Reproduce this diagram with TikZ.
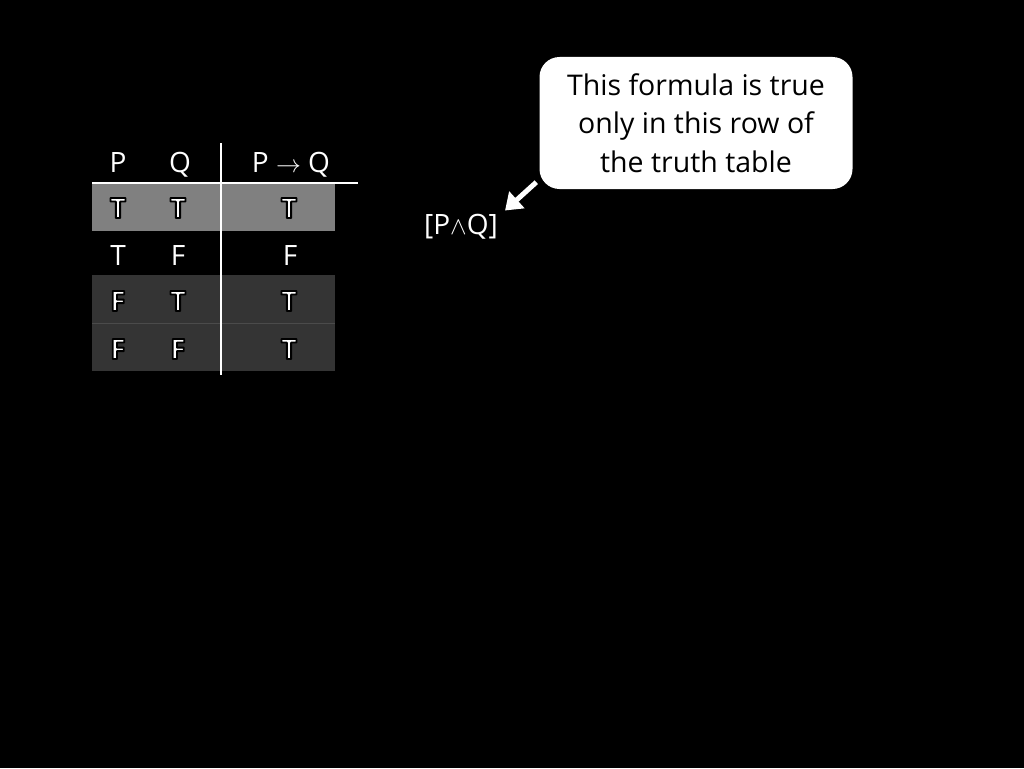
\documentclass[tikz,border=0pt]{standalone}
\usepackage{fontspec}
\setmainfont{Open Sans}
\usetikzlibrary{arrows.meta}

\definecolor{lightrow}{RGB}{128,128,128}
\definecolor{darkrow}{RGB}{52,52,52}
\definecolor{rowline}{RGB}{75,75,75}

% white letter with a dark rim
\newcommand{\glow}[1]{\special{pdf:literal direct 2 Tr 1.8 w 1 j 0 0 0 RG}\textbf{#1}\special{pdf:literal direct 0 Tr}}

\begin{document}
\begin{tikzpicture}[x=1pt,y=-1pt,
  cell/.style={text=white,inner sep=0pt,anchor=base,font=\fontsize{28}{30}\selectfont},
  rule/.style={white,line width=2pt},
  note/.style={fill=white,rounded corners=20pt,minimum width=313pt,minimum height=132pt,
    align=center,text=black,font=\fontsize{28.5}{38.5}\selectfont},
  pointer/.style={white,line width=5pt,-{Triangle[length=16pt,width=22pt]}}]
\fill[black] (0,0) rectangle (1024,768);
\useasboundingbox (0,0) rectangle (1024,768);

% shaded rows
\fill[lightrow] (92,183) rectangle (335,231);
\fill[darkrow] (92,275) rectangle (335,371);
\draw[rowline] (92,323) -- (335,323);

% header
\node[cell] (hp) at (118,172) {P};
\node[cell] (hq) at (180,172) {Q};
\node[cell] (himp) at (291,172) {P $\rightarrow$ Q};

% rows
\node[cell] (p1) at (118,218) {\glow{T}};
\node[cell] (q1) at (178,218) {\glow{T}};
\node[cell] (r1) at (289,218) {\glow{T}};
\node[cell] (p2) at (118,265) {T};
\node[cell] (q2) at (178,265) {F};
\node[cell] (r2) at (290,265) {F};
\node[cell] (p3) at (118,311) {\glow{F}};
\node[cell] (q3) at (178,311) {\glow{T}};
\node[cell] (r3) at (289,311) {\glow{T}};
\node[cell] (p4) at (118,359) {\glow{F}};
\node[cell] (q4) at (178,359) {\glow{F}};
\node[cell] (r4) at (289,359) {\glow{T}};

\draw[rule] (92,183) -- (358,183);
\draw[rule] (221,143) -- (221,375);

% callout
\node[note] (note) at (696,123) {This formula is true\\only in this row of\\the truth table};
\node[cell] (conj) at (461,234) {[P$\wedge$Q]};
\draw[pointer] ([shift={(-3,-7)}]note.south west) -- ([shift={(7,-3)}]conj.north east);
\end{tikzpicture}
\end{document}
